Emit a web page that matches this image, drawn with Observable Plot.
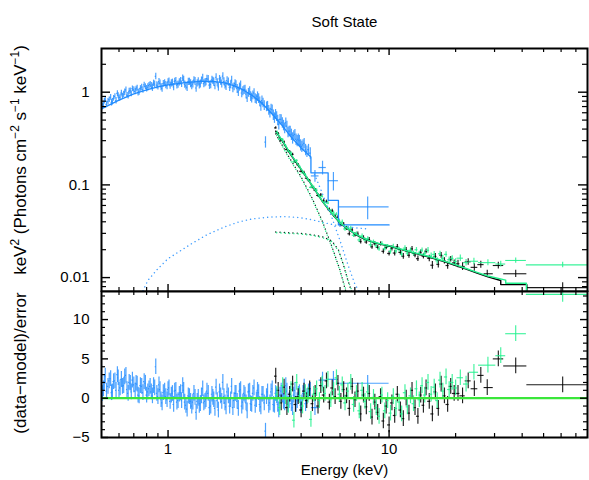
<!DOCTYPE html>
<html><head><meta charset="utf-8">
<script src="https://cdn.jsdelivr.net/npm/d3@7"></script>
<script src="https://cdn.jsdelivr.net/npm/@observablehq/plot@0.6"></script>
<style>
body{margin:0;background:#fff;}
#chart{position:relative;width:589px;height:480px;overflow:hidden;}
#chart svg{position:absolute;left:0;background:transparent;}
</style></head><body><div id="chart"></div>
<script>
// ---------- axes / ticks ----------
const xDomain = [0.5, 79];
const yTopDomain = [0.00708, 2.96];
const yResDomain = [-5, 13.57];
const xMajor = [1, 10];
const xMajorLabels = ["1", "10"];
const xMinor = [0.6,0.7,0.8,0.9,2,3,4,5,6,7,8,9,20,30,40,50,60,70];
const yTopMajor = [0.01, 0.1, 1];
const yTopLabels = ["0.01", "0.1", "1"];
const yTopMinor = [0.008,0.009,0.02,0.03,0.04,0.05,0.06,0.07,0.08,0.09,0.2,0.3,0.4,0.5,0.6,0.7,0.8,0.9,2];
const yResMajor = [-5, 0, 5, 10];
const yResLabels = ["\u22125", "0", "5", "10"];
const yResMinor = [-4,-3,-2,-1,1,2,3,4,6,7,8,9,11,12,13];

// ---------- blue spectrum (soft instrument), two interleaved sets of bins ----------
const blueE = [0.50,0.51,0.52,0.535,0.55,0.56,0.575,0.59,0.60,0.615,0.63,0.645,0.66,0.675,0.69,0.71,0.725,0.74,0.76,0.78,
0.80,0.82,0.84,0.86,0.88,0.90,0.92,0.94,0.965,0.99,1.01,1.035,1.06,1.085,1.11,1.14,1.165,1.19,1.22,1.25,
1.28,1.31,1.34,1.37,1.40,1.435,1.47,1.50,1.54,1.58,1.61,1.65,1.69,1.73,1.77,1.81,1.85,1.90,1.94,1.99,
2.03,2.08,2.13,2.18,2.23,2.28,2.34,2.39,2.45,2.51,2.57,2.63,2.69,2.76,2.82,2.89,2.96,3.03,3.10,3.17,
3.25,3.33,3.41,3.49,3.57,3.66,3.75,3.84,3.93,4.03,4.13,4.25,4.40];
const blueF = [0.75,0.73,0.84,0.79,0.88,0.79,0.90,0.97,0.86,0.98,0.95,1.06,0.92,1.04,1.09,1.02,1.11,1.01,1.13,1.20,
1.09,1.18,1.17,1.25,1.48,1.16,1.25,1.10,1.26,1.17,1.32,1.25,1.14,1.33,1.21,1.32,1.42,1.21,1.13,1.30,
1.18,1.35,1.11,1.31,1.23,1.43,1.27,1.40,1.19,1.36,1.29,1.45,1.14,1.32,1.49,1.20,1.33,1.13,1.35,1.15,
1.21,1.01,1.20,1.03,1.07,0.87,1.03,0.87,0.98,0.84,0.86,0.71,0.77,0.29,0.71,0.60,0.65,0.53,0.55,0.45,
0.51,0.44,0.47,0.37,0.38,0.32,0.35,0.30,0.30,0.26,0.28,0.23,0.22];
const blueRelErr = [0.07,0.08,0.07,0.08,0.07,0.08,0.07,0.07,0.08,0.07,0.08,0.07,0.08,0.07,0.07,0.08,0.07,0.08,0.08,0.07,
0.08,0.08,0.09,0.08,0.08,0.09,0.08,0.09,0.08,0.09,0.08,0.09,0.09,0.08,0.09,0.09,0.08,0.09,0.10,0.09,
0.10,0.09,0.10,0.09,0.10,0.09,0.10,0.09,0.10,0.09,0.10,0.09,0.10,0.10,0.09,0.10,0.10,0.10,0.10,0.10,
0.10,0.11,0.10,0.11,0.11,0.11,0.11,0.12,0.11,0.12,0.12,0.12,0.12,0.14,0.12,0.12,0.12,0.13,0.12,0.13,
0.12,0.13,0.12,0.13,0.13,0.14,0.13,0.14,0.14,0.14,0.13,0.14,0.14];
const blueResid = [2.0,1.2,2.8,1.5,2.5,0.8,2.2,3.0,1.0,2.4,1.6,2.9,0.6,1.9,2.3,0.9,1.8,0.3,1.5,2.1,
0.4,1.2,0.8,1.6,4.0,0.2,1.1,-0.6,0.9,-0.2,1.3,0.4,-0.8,1.0,-0.3,0.7,1.6,-0.5,-1.4,0.2,
-1.0,0.6,-1.8,0.1,-0.7,1.2,-0.4,0.9,-1.2,0.5,-0.2,1.4,-1.5,0.3,2.0,-0.6,0.8,-1.0,1.5,-0.3,
0.6,-1.3,1.1,-0.5,0.4,-1.6,0.9,-0.8,1.3,-0.2,0.7,-1.1,0.5,-4.2,0.8,-0.6,1.2,-0.9,0.3,-1.5,
0.9,-0.4,1.6,-0.8,0.5,-1.2,1.0,-0.3,0.7,-0.6,1.4,0.2,1.0];
const blueE2 = [0.505,0.515,0.527,0.542,0.555,0.567,0.582,0.595,0.607,0.622,0.637,0.652,0.667,0.682,0.70,0.717,0.732,0.75,0.77,0.79,
0.81,0.83,0.85,0.87,0.89,0.91,0.93,0.952,0.977,1.0,1.022,1.047,1.072,1.097,1.125,1.152,1.177,1.205,1.235,1.265,
1.295,1.325,1.355,1.385,1.417,1.452,1.485,1.52,1.56,1.595,1.63,1.67,1.71,1.75,1.79,1.83,1.875,1.92,1.965,2.01,
2.055,2.105,2.155,2.205,2.255,2.31,2.365,2.42,2.48,2.54,2.60,2.66,2.725,2.79,2.855,2.925,2.995,3.065,3.135,3.21,
3.29,3.37,3.45,3.53,3.615,3.705,3.795,3.885,3.98,4.08,4.19,4.32];
const blueF2 = [0.70,0.80,0.74,0.83,0.77,0.86,0.81,0.92,0.88,0.91,1.00,0.93,1.02,0.96,1.06,1.08,0.99,1.10,1.06,1.15,
1.13,1.21,1.12,1.22,1.19,1.30,1.14,1.24,1.20,1.29,1.18,1.27,1.31,1.19,1.28,1.22,1.36,1.17,1.30,1.24,
1.22,1.31,1.25,1.20,1.34,1.24,1.29,1.38,1.21,1.33,1.18,1.27,1.39,1.23,1.30,1.16,1.29,1.21,1.11,1.24,
1.09,1.14,0.98,1.06,0.95,0.99,0.90,0.93,0.86,0.90,0.79,0.81,0.72,0.70,0.64,0.66,0.57,0.58,0.50,0.51,
0.47,0.41,0.43,0.38,0.35,0.34,0.31,0.31,0.27,0.27,0.24,0.24];
const blueRelErr2 = [0.08,0.07,0.08,0.07,0.08,0.07,0.08,0.07,0.08,0.07,0.08,0.07,0.08,0.07,0.08,0.07,0.08,0.07,0.08,0.07,
0.09,0.08,0.09,0.08,0.09,0.08,0.09,0.08,0.09,0.08,0.09,0.09,0.08,0.09,0.09,0.08,0.09,0.10,0.09,0.10,
0.09,0.10,0.09,0.10,0.09,0.10,0.09,0.10,0.10,0.09,0.10,0.10,0.09,0.10,0.10,0.10,0.10,0.10,0.11,0.10,
0.11,0.10,0.11,0.11,0.11,0.11,0.12,0.11,0.12,0.12,0.12,0.12,0.12,0.12,0.12,0.12,0.13,0.12,0.13,0.13,
0.13,0.13,0.13,0.13,0.14,0.13,0.14,0.14,0.14,0.14,0.14,0.14];
const blueResid2 = [0.6,2.0,0.9,2.2,0.7,2.1,1.0,2.6,1.3,1.5,2.7,1.1,2.0,0.8,1.7,1.9,0.4,1.6,0.7,1.9,
0.8,1.5,0.3,1.3,0.6,1.7,-0.2,0.7,0.2,1.1,-0.4,0.6,0.9,-0.5,0.5,-0.3,1.0,-0.9,0.3,-0.4,
-0.5,0.1,-0.4,-0.9,0.3,-0.6,-0.2,0.6,-1.0,0.1,-1.3,-0.3,0.8,-0.4,0.2,-1.1,0.3,-0.2,-1.2,0.6,
-0.4,0.9,-1.0,0.6,-0.6,0.8,-0.7,0.6,-0.9,1.0,-0.8,0.5,-0.6,0.2,-0.9,0.8,-0.8,0.6,-0.8,0.4,
0.4,-0.6,0.9,-0.3,-0.7,0.4,-0.8,0.5,-0.9,0.6,-0.7,0.8];
const blueWideE = [4.62, 5.0, 5.6, 8.0];
const blueWideLo = [4.45, 4.82, 5.3, 5.9];
const blueWideHi = [4.82, 5.2, 5.9, 10];
const blueWideF = [0.125, 0.154, 0.111, 0.058];
const blueWideErr = [0.018, 0.026, 0.025, 0.016];
const blueWideResid = [-1.2, 2.3, 2.4, 1.9];
const blueModelE = [0.5,0.6,0.7,0.8,0.9,1.0,1.2,1.4,1.6,1.8,2.0,2.2,2.4,2.6,2.8,3.0,3.3,3.6,4.0,4.43,4.43,5.3,5.3,5.9,5.9,10];
const blueModelF = [0.66,0.82,0.96,1.06,1.14,1.20,1.27,1.31,1.31,1.26,1.17,1.05,0.92,0.80,0.67,0.56,0.43,0.33,0.25,0.20,0.135,0.135,0.068,0.068,0.037,0.037];
const blueHumpE = [0.77,0.81,0.9,1.0,1.27,1.5,1.79,2.1,2.4,2.9,3.4,3.9,4.5,5.1,6.0,7.0,8.0];
const blueHumpF = [0.0072,0.0093,0.0125,0.016,0.023,0.029,0.035,0.040,0.043,0.045,0.0455,0.0445,0.042,0.039,0.036,0.0345,0.0335];
const blueDiskE = [4.6,5.0,5.5,6.0,6.5,7.0,7.4];
const blueDiskF = [0.13,0.08,0.045,0.025,0.014,0.0085,0.0068];

// ---------- black spectrum ----------
const blackE = [3.07,3.15,3.25,3.35,3.45,3.55,3.66,3.77,3.88,4.00,4.12,4.24,4.37,4.50,4.63,4.77,4.91,5.06,5.21,5.37,
5.53,5.70,5.87,6.05,6.23,6.42,6.61,6.81,7.01,7.22,7.44,7.66,7.89,8.13,8.37,8.62,8.88,9.15,9.42,9.70,
10.0,10.3,10.6,10.9,11.25,11.6,11.95,12.3,12.7,13.1,13.5,13.9,14.3,14.7,15.2,15.7,16.2,16.7,17.2,17.8,
18.4,19.0,19.7,20.5];
const blackF = [0.412,0.357,0.303,0.290,0.241,0.228,0.213,0.177,0.165,0.140,0.136,0.118,0.111,0.094,0.088,0.077,0.078,0.0676,0.066,0.054,
0.0526,0.0461,0.0448,0.0372,0.0375,0.034,0.0297,0.0327,0.0289,0.0295,0.0245,0.0269,0.0242,0.0257,0.0215,0.0232,0.0212,0.0231,0.0192,0.0211,
0.0182,0.0207,0.0184,0.0215,0.0187,0.0170,0.0199,0.0174,0.0204,0.0175,0.0160,0.0187,0.0170,0.0192,0.0161,0.0136,0.0169,0.0139,0.0174,0.0152,
0.0135,0.0158,0.0144,0.0141];
const blackErr = [0.011,0.010,0.009,0.008,0.0075,0.007,0.0065,0.006,0.005,0.0045,0.004,0.004,0.0035,0.0035,0.0035,0.0032,0.003,0.0027,0.0025,0.0023,
0.0021,0.002,0.0018,0.0019,0.0018,0.0017,0.0016,0.0016,0.0015,0.0015,0.0014,0.0014,0.0013,0.0013,0.0013,0.0012,0.0012,0.0012,0.0012,0.0011,
0.0011,0.0013,0.0013,0.0013,0.0012,0.0012,0.0012,0.0012,0.0012,0.0011,0.0011,0.0011,0.0011,0.0011,0.0013,0.0013,0.0013,0.0012,0.0012,0.0012,
0.0012,0.0011,0.0011,0.0013];
const blackResid = [2.8,1.0,-0.6,1.4,-1.2,0.5,1.8,-0.8,0.2,-1.5,0.9,-0.3,1.2,-0.7,0.6,-1.0,1.6,0.4,2.2,-0.5,
1.3,0.2,1.9,-0.4,1.1,0.3,-1.3,1.5,-0.2,0.9,-2.0,0.4,-1.1,0.6,-2.4,-0.5,-1.8,0.2,-2.9,-1.0,
-3.4,-0.6,-2.2,0.5,-1.5,-2.6,0.0,-1.9,1.0,-1.2,-2.3,0.4,-0.9,1.3,-0.4,-2.0,0.8,-1.3,1.8,0.3,
-0.8,1.5,0.6,0.6];
const blackWideE = [21.5, 22.8, 24.3, 26.0, 27.8, 31.2, 37.4, 61];
const blackWideLo = [20.9, 22.1, 23.5, 25.2, 26.9, 29.6, 33.0, 42];
const blackWideHi = [22.1, 23.5, 25.2, 26.9, 29.6, 33.0, 42, 79];
const blackWideF = [0.0132, 0.0148, 0.0129, 0.0138, 0.0110, 0.0135, 0.0110, 0.0078];
const blackWideErr = [0.0013, 0.0012, 0.0012, 0.0012, 0.0010, 0.0011, 0.0010, 0.0010];
const blackWideResid = [0.3, 2.2, 1.2, 2.9, 1.35, 5.0, 4.1, 1.7];
const blackModelE = [3.07,3.3,3.6,4.0,4.3,4.58,5.0,5.5,6.04,6.5,7.0,7.5,8.0,9.0,10,12,15,18,20,22,25,28,32,32,42,42,79];
const blackModelF = [0.38,0.293,0.210,0.147,0.114,0.091,0.066,0.049,0.038,0.0335,0.0295,0.027,0.0252,0.0231,0.0219,0.0193,0.0168,0.0147,0.0135,0.0125,0.0112,0.0102,0.0093,0.0084,0.0084,0.006,0.006];
const blackHumpE = [3.07,3.5,4.0,4.5,5.0,5.5,5.9,6.2,6.5,6.8];
const blackHumpF = [0.031,0.0305,0.030,0.029,0.0275,0.025,0.020,0.014,0.0095,0.0068];
const blackDiskE = [3.07,3.5,4.0,4.5,5.0,5.5,6.0,6.4];
const blackDiskF = [0.355,0.205,0.122,0.071,0.040,0.022,0.012,0.0068];

// ---------- green spectrum ----------
const greenE = [3.11,3.20,3.30,3.40,3.50,3.60,3.71,3.82,3.94,4.06,4.18,4.30,4.43,4.56,4.70,4.84,4.98,5.13,5.29,5.45,
5.61,5.78,5.96,6.14,6.32,6.51,6.71,6.91,7.12,7.33,7.55,7.78,8.01,8.25,8.50,8.75,9.01,9.28,9.56,9.85,
10.15,10.45,10.75,11.1,11.4,11.8,12.1,12.5,12.9,13.3,13.7,14.1,14.5,15.0,15.5,16.0,16.5,17.0,17.5,18.1,
18.7,19.3,20.0];
const greenF = [0.371,0.315,0.307,0.265,0.231,0.221,0.177,0.183,0.156,0.135,0.129,0.114,0.094,0.094,0.0875,0.075,0.075,0.065,0.0636,0.052,
0.050,0.0482,0.0408,0.0398,0.0335,0.0341,0.0342,0.0286,0.0296,0.0255,0.0281,0.0255,0.0263,0.0226,0.0242,0.0221,0.0204,0.0232,0.0205,0.0217,
0.0192,0.0216,0.0194,0.0201,0.0179,0.0208,0.0184,0.0197,0.0182,0.0200,0.0182,0.0198,0.0183,0.0197,0.0171,0.0178,0.0152,0.0181,0.0161,0.0178,
0.0156,0.0161,0.0149];
const greenErr = [0.011,0.0098,0.0088,0.008,0.0072,0.0065,0.006,0.0053,0.0048,0.0042,0.0038,0.0035,0.0032,0.0034,0.0032,0.003,0.0028,0.0026,0.0024,0.0022,
0.002,0.0019,0.002,0.0019,0.0018,0.0017,0.0016,0.0015,0.0015,0.0014,0.0014,0.0013,0.0013,0.0013,0.0012,0.0012,0.0012,0.0012,0.0011,0.0011,
0.0013,0.0013,0.0013,0.0012,0.0012,0.0012,0.0012,0.0012,0.0011,0.0011,0.0011,0.0011,0.0011,0.0014,0.0013,0.0013,0.0012,0.0012,0.0012,0.0012,
0.0011,0.0011,0.0011];
const greenResid = [0.5,-1.2,1.6,0.2,-0.9,1.1,-2.8,2.0,0.3,-1.0,0.7,0.4,-2.7,0.5,1.2,-0.3,1.8,0.6,2.4,-0.2,
1.0,2.6,0.5,1.7,-0.6,0.9,2.0,-0.8,0.6,-1.6,1.0,-0.4,0.8,-1.7,0.1,-1.2,-2.3,0.4,-1.6,-0.3,
-1.9,0.2,-1.3,-0.5,-2.0,0.7,-1.1,0.3,-0.7,1.2,-0.2,1.6,0.4,2.0,0.5,1.4,-0.3,2.3,0.9,2.7,
1.1,2.0,1.3];
const greenWideE = [21.0, 22.3, 24.2, 28.0, 32.0, 37.4, 61];
const greenWideLo = [20.3, 21.7, 23.0, 25.4, 30.4, 33.7, 41.8];
const greenWideHi = [21.7, 23.0, 25.4, 30.4, 33.7, 41.8, 79];
const greenWideF = [0.0162, 0.0145, 0.0150, 0.0145, 0.0140, 0.0153, 0.0137];
const greenWideErr = [0.0013, 0.0012, 0.0012, 0.0011, 0.0010, 0.0010, 0.0009];
const greenWideResid = [2.6, 1.8, 3.3, 4.2, 5.4, 8.2, 13.2];
const greenModelE = [3.1,3.3,3.6,4.0,4.3,4.58,5.0,5.5,6.04,6.5,7.0,7.5,8.0,9.0,10,12,15,18,20,22,25,28,33.7,33.7,41.8,41.8,79];
const greenModelF = [0.37,0.296,0.212,0.149,0.115,0.092,0.0665,0.0495,0.0384,0.0338,0.0298,0.0273,0.0254,0.0233,0.0221,0.0195,0.0170,0.0149,0.0137,0.0127,0.0114,0.0104,0.0094,0.0087,0.0087,0.0064,0.0064];
const greenHumpE = [3.1,3.5,4.0,4.5,5.0,5.5,5.9,6.25,6.55,6.85];
const greenHumpF = [0.0305,0.030,0.0295,0.0285,0.027,0.0245,0.0195,0.0135,0.009,0.0068];
const greenDiskE = [3.1,3.5,4.0,4.5,5.0,5.5,6.0,6.45];
const greenDiskF = [0.34,0.20,0.119,0.069,0.039,0.0215,0.0118,0.0068];

// ---------- helpers ----------
const BLUE = "#1f8bff", BLUE_DOT = "#3f9dff", BLACK = "#000000", GREEN = "#22f28e", ZERO = "#3ae63a";
const FONT = "'Liberation Sans', Arial, Helvetica, sans-serif";

function denseRows(E, F, err, R) {
  const idx = E.map((e, i) => i).sort((a, b) => E[a] - E[b]);
  const Es = idx.map(i => E[i]);
  return idx.map((j, k) => {
    const e = Es[k];
    const prev = k > 0 ? Es[k - 1] : e * e / Es[k + 1];
    const next = k < Es.length - 1 ? Es[k + 1] : e * e / Es[k - 1];
    return {E: e, lo: Math.sqrt(prev * e), hi: Math.sqrt(e * next), F: F[j], dF: err[j], R: R[j]};
  });
}
function wideRows(E, lo, hi, F, err, R) {
  return E.map((e, i) => ({E: e, lo: lo[i], hi: hi[i], F: F[i], dF: err[i], R: R[i]}));
}
const pts = (E, F) => E.map((e, i) => ({E: e, F: F[i]}));

const blueAllE = blueE.concat(blueE2);
const blueAllF = blueF.concat(blueF2);
const blueAllErr = blueF.map((f, i) => f * blueRelErr[i]).concat(blueF2.map((f, i) => f * blueRelErr2[i]));
const blueAllR = blueResid.concat(blueResid2);
const blueRows = denseRows(blueAllE, blueAllF, blueAllErr, blueAllR);
const blueWide = wideRows(blueWideE, blueWideLo, blueWideHi, blueWideF, blueWideErr, blueWideResid);
const blackRows = denseRows(blackE, blackF, blackErr, blackResid);
const blackWide = wideRows(blackWideE, blackWideLo, blackWideHi, blackWideF, blackWideErr, blackWideResid);
const greenRows = denseRows(greenE, greenF, greenErr, greenResid);
const greenWide = wideRows(greenWideE, greenWideLo, greenWideHi, greenWideF, greenWideErr, greenWideResid);

const W = 589, ML = 101, MR = 2;
const FW = W - ML - MR;

function ticks(FH, xs, ys, xLen, yLen, sw) {
  const o = {stroke: BLACK, strokeWidth: sw};
  return [
    Plot.ruleX(xs, {x: d => d, insetTop: FH - xLen, ...o}),
    Plot.ruleX(xs, {x: d => d, insetBottom: FH - xLen, ...o}),
    Plot.ruleY(ys, {y: d => d, insetRight: FW - yLen, ...o}),
    Plot.ruleY(ys, {y: d => d, insetLeft: FW - yLen, ...o})
  ];
}
function bars(rows, color, yKey, yLo, yHi, sw, op) {
  return [
    Plot.ruleX(rows, {x: "E", y1: yLo, y2: yHi, stroke: color, strokeWidth: sw, strokeOpacity: op, clip: true}),
    Plot.ruleY(rows, {y: yKey, x1: "lo", x2: "hi", stroke: color, strokeWidth: sw, strokeOpacity: op, clip: true})
  ];
}
const topBars = (rows, color, sw, op) => bars(rows, color, "F", d => d.F - d.dF, d => d.F + d.dF, sw, op);
const resBars = (rows, color, sw, op) => bars(rows, color, "R", d => d.R - 1, d => d.R + 1, sw, op);
const dotted = (E, F, color) => Plot.line(pts(E, F), {x: "E", y: "F", stroke: color, strokeWidth: 1.4, strokeDasharray: "0.1,4.2", strokeLinecap: "round", clip: true});

// ---------- top panel ----------
const TOPH = 292, TOPMT = 48, TOPMB = 1;
const FHtop = TOPH - TOPMT - TOPMB;
const topPlot = Plot.plot({
  width: W, height: TOPH, marginLeft: ML, marginRight: MR, marginTop: TOPMT, marginBottom: TOPMB,
  x: {type: "log", domain: xDomain, axis: null},
  y: {type: "log", domain: yTopDomain, axis: null},
  style: {background: "transparent", fontFamily: FONT, color: "#000"},
  marks: [
    ...topBars(blueRows, BLUE, 1.2, 0.8),
    ...topBars(blueWide, BLUE, 1.2, 0.8),
    ...topBars(blackRows, BLACK, 1.2, 0.85),
    ...topBars(greenRows, GREEN, 1.2, 0.85),
    ...topBars(blackWide, BLACK, 1.1, 0.9),
    ...topBars(greenWide, GREEN, 1.1, 0.9),
    Plot.line(pts(blueModelE, blueModelF), {x: "E", y: "F", stroke: BLUE, strokeWidth: 1.3, clip: true}),
    Plot.line(pts(blackModelE, blackModelF), {x: "E", y: "F", stroke: BLACK, strokeWidth: 1.4, clip: true}),
    Plot.line(pts(greenModelE, greenModelF), {x: "E", y: "F", stroke: GREEN, strokeWidth: 1.4, clip: true}),
    dotted(blueHumpE, blueHumpF, BLUE_DOT),
    dotted(blueDiskE, blueDiskF, BLUE_DOT),
    dotted(blackHumpE, blackHumpF, "#0b3020"),
    dotted(blackDiskE, blackDiskF, "#0b3020"),
    dotted(greenHumpE, greenHumpF, GREEN),
    dotted(greenDiskE, greenDiskF, GREEN),
    ...ticks(FHtop, xMajor, yTopMajor, 7, 9, 1.4),
    ...ticks(FHtop, xMinor, yTopMinor, 4, 5, 1.2),
    Plot.frame({stroke: BLACK, strokeWidth: 2}),
    Plot.text(yTopMajor, {y: d => d, text: (d, i) => yTopLabels[i], frameAnchor: "left", textAnchor: "end", dx: -12, fontSize: 15, fill: BLACK}),
    Plot.text(["Soft State"], {text: d => d, frameAnchor: "top", dy: -32, fontSize: 15, fill: BLACK})
  ]
});

// ---------- residual panel ----------
const BOTH = 190, BOTMT = 1, BOTMB = 43;
const FHbot = BOTH - BOTMT - BOTMB;
const botPlot = Plot.plot({
  width: W, height: BOTH, marginLeft: ML, marginRight: MR, marginTop: BOTMT, marginBottom: BOTMB,
  x: {type: "log", domain: xDomain, axis: null},
  y: {domain: yResDomain, axis: null},
  style: {background: "transparent", fontFamily: FONT, color: "#000"},
  marks: [
    ...resBars(blueRows, BLUE, 1.2, 0.8),
    ...resBars(blueWide, BLUE, 1.2, 0.8),
    ...resBars(blackRows, BLACK, 1.2, 0.85),
    ...resBars(greenRows, GREEN, 1.2, 0.85),
    ...resBars(blackWide, BLACK, 1.1, 0.9),
    ...resBars(greenWide, GREEN, 1.1, 0.9),
    Plot.ruleY([0], {stroke: ZERO, strokeWidth: 2.2}),
    ...ticks(FHbot, xMajor, yResMajor, 7, 7, 1.4),
    ...ticks(FHbot, xMinor, yResMinor, 4, 4, 1.2),
    Plot.frame({stroke: BLACK, strokeWidth: 2}),
    Plot.text(yResMajor, {y: d => d, text: (d, i) => yResLabels[i], frameAnchor: "left", textAnchor: "end", dx: -12, fontSize: 15, fill: BLACK}),
    Plot.text(xMajor, {x: d => d, text: (d, i) => xMajorLabels[i], frameAnchor: "bottom", lineAnchor: "middle", dy: 12, fontSize: 15, fill: BLACK}),
    Plot.text(["Energy (keV)"], {text: d => d, frameAnchor: "bottom", lineAnchor: "middle", dy: 33, fontSize: 15, fill: BLACK})
  ]
});

const chart = document.getElementById("chart");
topPlot.style.top = "0px";
botPlot.style.top = "290px";
chart.appendChild(topPlot);
chart.appendChild(botPlot);

// rotated axis titles with superscripts
function yTitle(svg, cx, cy, size, parts) {
  const t = d3.select(svg).append("text")
    .attr("transform", `translate(${cx},${cy}) rotate(-90)`)
    .attr("text-anchor", "middle").attr("font-family", FONT).attr("font-size", size).attr("fill", "#000");
  let shifted = false;
  parts.forEach(([s, sup]) => {
    const ts = t.append("tspan").text(s);
    if (sup && !shifted) { ts.attr("dy", -7).attr("font-size", size * 0.7); shifted = true; }
    else if (sup) { ts.attr("font-size", size * 0.7); }
    else if (shifted) { ts.attr("dy", 7); shifted = false; }
  });
}
yTitle(topPlot, 26, 160, 17, [["keV"], ["2", true], [" (Photons cm"], ["\u22122", true], [" s"], ["\u22121", true], [" keV"], ["\u22121", true], [")"]]);
yTitle(botPlot, 26, 73, 17, [["(data\u2212model)/error"]]);
</script>
</body></html>
